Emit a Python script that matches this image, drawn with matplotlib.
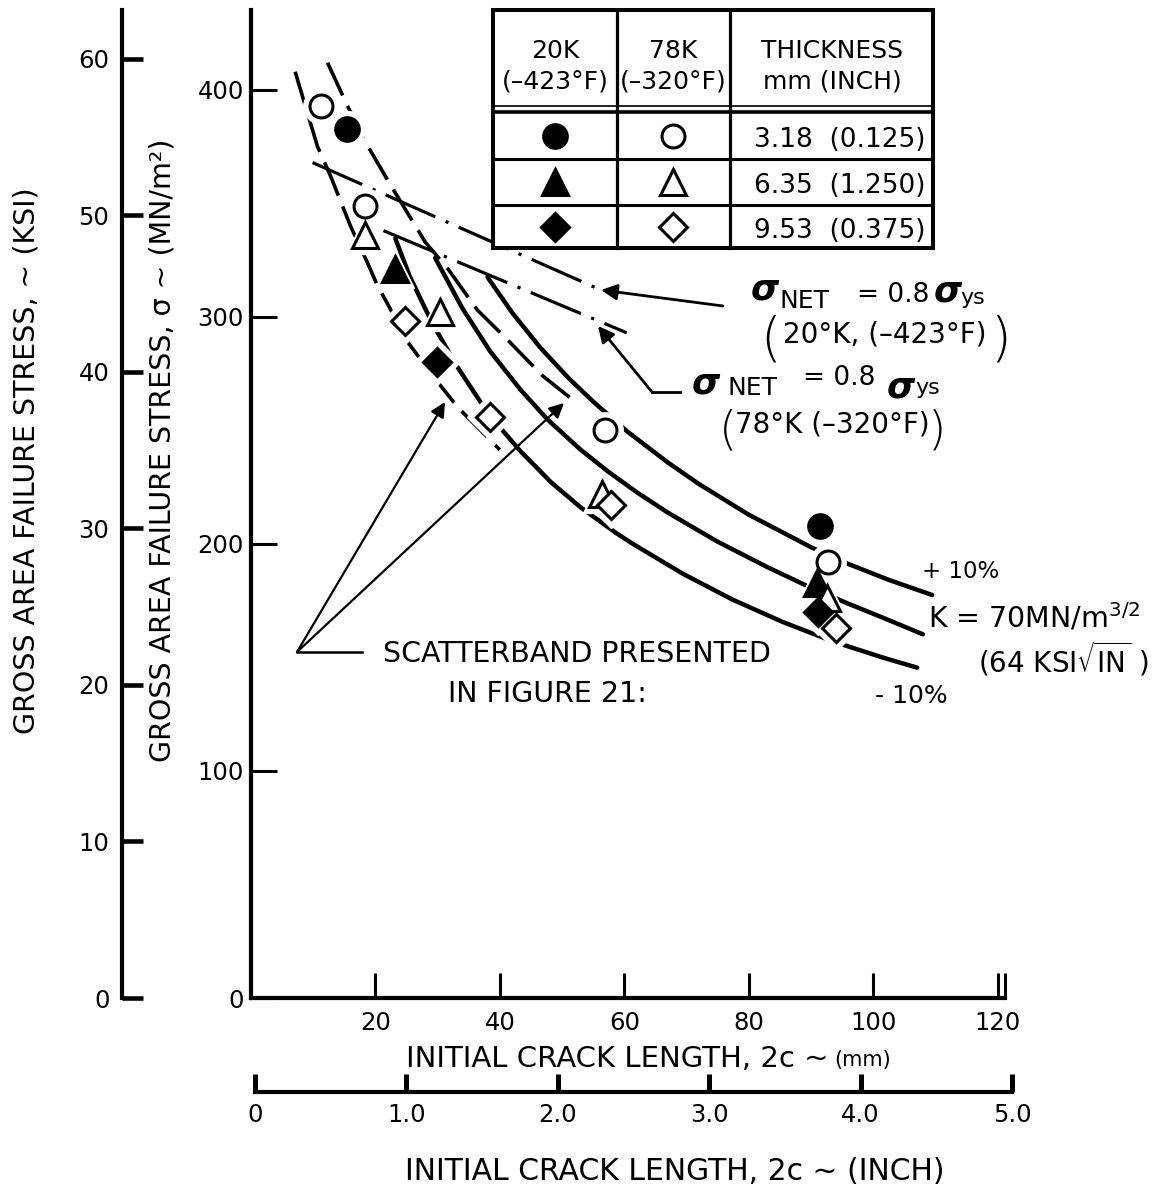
import matplotlib.pyplot as plt
from matplotlib.patches import Rectangle

# values
# crack length 2c (mm) vs gross area failure stress (MN/m^2)
circ_20k_x = [15.5, 91.4]
circ_20k_y = [383, 208]
circ_78k_x = [11.2, 18.4, 56.9, 92.7]
circ_78k_y = [393, 349, 250, 192]
tri_20k_x = [23.2, 90.9]
tri_20k_y = [321, 183]
tri_78k_x = [18.4, 30.4, 56.4, 92.6]
tri_78k_y = [336, 302, 222, 176]
dia_20k_x = [29.9, 91.1]
dia_20k_y = [280, 170]
dia_78k_x = [24.8, 38.4, 57.9, 94.1]
dia_78k_y = [298, 256, 217, 163]

# K = 70 MN/m^3/2 line with the +/-10 % band
k_x = [29.6, 34, 38.4, 43.3, 47.6, 52.9, 57.5, 62, 67, 75, 83, 89, 96, 101.5, 108]
k_y = [326, 303.7, 285, 268, 255, 241.7, 231.7, 222.8, 213.8, 201, 189.8, 182, 173.7,
       167.6, 160.2]
kplus_x = [38, 42, 46.5, 51, 55, 60.5, 67, 72, 80, 90, 96, 102.5, 109.5]
kplus_y = [317.6, 301.8, 286.5, 273.2, 262.7, 249.5, 235.9, 226.4, 212.9, 198.6, 191.2,
           184.2, 177.5]
kminus_x = [23.2, 25.5, 28, 29.6, 33.1, 36.8, 40, 43.3, 48.3, 53, 58.8, 61.4, 69.4, 77.4,
            85.5, 93.5, 101.5, 107.1]
kminus_y = [334.6, 318, 303.7, 295, 278.3, 262.9, 251.4, 240.9, 227, 216.1, 204.6, 200,
            186.9, 175.5, 165.6, 157.1, 150, 145.5]

# scatterband from figure 21
band_lo_x = [7.1, 8.4, 10.7, 12.8, 16.0, 18.7, 20.3, 22.1, 25.3, 30.1, 33.3, 40.0]
band_lo_y = [408, 396, 375, 362, 340, 324, 314, 305, 288.5, 271, 260, 241.5]
band_hi_x = [12.3, 15.5, 18.4, 21.6, 22.9, 28.0, 31.7, 36.4, 41.2, 46.9, 52.4]
band_hi_y = [412, 393, 377, 362, 356, 333, 321, 303, 290, 274, 262]

# net section stress = 0.8 yield
net20_x = [9.9, 55.3]
net20_y = [368, 313]
net78_x = [21.3, 60.4]
net78_y = [338, 293]

mm_ticks = [20, 40, 60, 80, 100, 120]
stress_ticks = [0, 100, 200, 300, 400]
ksi_ticks = [0, 10, 20, 30, 40, 50, 60]
inch_ticks = [0, 1, 2, 3, 4, 5]
inch_labels = ["0", "1.0", "2.0", "3.0", "4.0", "5.0"]

thick_labels = ["3.18  (0.125)", "6.35  (1.250)", "9.53  (0.375)"]

plt.rcParams['font.family'] = 'DejaVu Sans'
W, H = 1176, 1202
fig = plt.figure(figsize=(W / 100, H / 100), dpi=100)


def box(x0, y0, x1, y1):
    return [x0 / W, 1 - y1 / H, (x1 - x0) / W, (y1 - y0) / H]


# main axes (mm / MN/m^2)
ax = fig.add_axes(box(251, 10, 1005, 998))
ax.set_xlim(0, 121.2)
ax.set_ylim(0, 435.2)
ax.patch.set_alpha(0)
ax.spines['top'].set_visible(False)
ax.spines['right'].set_visible(False)
ax.spines['left'].set_linewidth(3)
ax.spines['bottom'].set_linewidth(3)
ax.set_xticks(mm_ticks)
ax.set_xticks([121.2], minor=True)
ax.set_yticks(stress_ticks)
ax.tick_params(axis='both', which='both', direction='in', labelsize=17.5, width=2.2)
ax.tick_params(axis='x', which='both', length=18, pad=9)
ax.tick_params(axis='y', length=19, pad=5)

solid = dict(color='k', lw=3.2, solid_capstyle='round', solid_joinstyle='round', zorder=2)
ax.plot(kplus_x, kplus_y, **solid)
ax.plot(k_x, k_y, **solid)
ax.plot(kminus_x, kminus_y, **solid)

dashed = dict(color='k', lw=2.6, ls=(0, (10, 3.2)), zorder=2)
ax.plot(band_lo_x, band_lo_y, **dashed)
ax.plot(band_hi_x, band_hi_y, **dashed)

dashdot = dict(color='k', lw=2.3, ls=(0, (17, 3.5, 1, 3.5)), zorder=2)
ax.plot(net20_x, net20_y, **dashdot)
ax.plot(net78_x, net78_y, **dashdot)

series = [
    (circ_20k_x, circ_20k_y, 'o', 'k', 17),
    (circ_78k_x, circ_78k_y, 'o', 'w', 16.5),
    (tri_20k_x, tri_20k_y, '^', 'k', 19),
    (tri_78k_x, tri_78k_y, '^', 'w', 19),
    (dia_20k_x, dia_20k_y, 'D', 'k', 14.5),
    (dia_78k_x, dia_78k_y, 'D', 'w', 14.5),
]
for xs, ys, m, fc, ms in series:
    ax.plot(xs, ys, ls='none', marker=m, ms=ms + 9, mfc='w', mec='w', zorder=3)
for xs, ys, m, fc, ms in series:
    ax.plot(xs, ys, ls='none', marker=m, ms=ms, mfc=fc, mec='k', mew=2.2, zorder=4)

# KSI scale on the far left
kax = fig.add_axes(box(122, 10, 200, 998))
kax.set_ylim(0, 435.2 / 6.895)
kax.patch.set_alpha(0)
for s in ['top', 'right', 'bottom']:
    kax.spines[s].set_visible(False)
kax.spines['left'].set_linewidth(3)
kax.set_xticks([])
kax.set_yticks(ksi_ticks)
kax.tick_params(axis='y', direction='in', length=15, width=3.3, labelsize=17.5, pad=9)

# inch scale below
iax = fig.add_axes(box(255, 1062, 1012, 1092))
iax.set_xlim(0, 5)
iax.set_ylim(0, 1)
iax.patch.set_alpha(0)
for s in ['top', 'right', 'left']:
    iax.spines[s].set_visible(False)
iax.spines['bottom'].set_linewidth(3)
iax.set_yticks([])
iax.set_xticks(inch_ticks, inch_labels)
iax.tick_params(axis='x', direction='in', length=13, width=3.6, labelsize=17.5, pad=8)

# axis titles
fig.text(27 / W, 1 - 461 / H, "GROSS AREA FAILURE STRESS, ~ (KSI)", rotation=90,
         ha='center', va='center', fontsize=20.5)
fig.text(163 / W, 1 - 450 / H, "GROSS AREA FAILURE STRESS, σ ~ (MN/m²)", rotation=90,
         ha='center', va='center', fontsize=20.5)

# overlay in pixel units for the table and annotations
ov = fig.add_axes([0, 0, 1, 1])
ov.set_xlim(0, W)
ov.set_ylim(H, 0)
ov.axis('off')

t = ov.text(406, 1067, "INITIAL CRACK LENGTH, 2c ~", fontsize=21, va='baseline')
ov.annotate("(mm)", xy=(1, 0), xycoords=t, xytext=(4, 2), textcoords='offset points',
            va='bottom', fontsize=15)
ov.text(405, 1180, "INITIAL CRACK LENGTH, 2c ~ (INCH)", fontsize=21.5, va='baseline')

# legend table
ov.add_patch(Rectangle((493, 10), 440, 238, fc='w', ec='k', lw=2.9, zorder=5))
for xv in [617, 730]:
    ov.plot([xv, xv], [10, 248], color='k', lw=2.3, zorder=6)
ov.plot([493, 933], [106, 106], color='k', lw=1.2, zorder=6)
ov.plot([493, 933], [112, 112], color='k', lw=2.6, zorder=6)
for yv in [159, 205]:
    ov.plot([493, 933], [yv, yv], color='k', lw=2.2, zorder=6)
hdr = dict(ha='center', va='baseline', fontsize=18, zorder=7)
ov.text(555, 58, "20K", **hdr)
ov.text(555, 88, "(–423°F)", **hdr)
ov.text(673, 58, "78K", **hdr)
ov.text(673, 88, "(–320°F)", **hdr)
ov.text(832, 58, "THICKNESS", **hdr)
ov.text(832, 88, "mm (INCH)", **hdr)
rows_y = [136, 182, 227]
legend_marks = [('o', 17, 16.5), ('^', 19, 19), ('D', 14.5, 14.5)]
for ry, (m, ms_f, ms_o), lab in zip(rows_y, legend_marks, thick_labels):
    ov.plot([555], [ry], marker=m, ms=ms_f, mfc='k', mec='k', mew=2.2, zorder=7)
    ov.plot([673], [ry], marker=m, ms=ms_o, mfc='w', mec='k', mew=2.2, zorder=7)
    ov.text(840, ry + 11, lab, ha='center', va='baseline', fontsize=19, zorder=7)

# net-section stress notes
sig = dict(fontsize=26, style='italic', weight='bold', va='baseline', ha='center')
ov.text(765, 300, "σ", **sig)
ov.text(780, 308, "NET", fontsize=18, va='baseline')
ov.text(857, 302, "= 0.8", fontsize=19, va='baseline')
ov.text(948, 302, "σ", **sig)
ov.text(960, 304, "ys", fontsize=16, va='baseline')
ov.text(771, 356, "(", fontsize=38, ha='center', va='baseline', weight='light')
ov.text(783, 343, "20°K, (–423°F)", fontsize=20, va='baseline')
ov.text(1000, 356, ")", fontsize=38, ha='center', va='baseline', weight='light')

ov.text(706, 393, "σ", **sig)
ov.text(727, 395, "NET", fontsize=18, va='baseline')
ov.text(803, 385, "= 0.8", fontsize=19, va='baseline')
ov.text(901, 397, "σ", **sig)
ov.text(915, 394, "ys", fontsize=16, va='baseline')
ov.text(728, 443, "(", fontsize=34, ha='center', va='baseline', weight='light')
ov.text(735, 433, "78°K (–320°F)", fontsize=20, va='baseline')
ov.text(937, 443, ")", fontsize=34, ha='center', va='baseline', weight='light')

arrow = dict(arrowstyle='-|>', color='k', lw=2.0, mutation_scale=24, shrinkA=0, shrinkB=0)
ov.annotate("", xy=(601, 290), xytext=(723, 306), arrowprops=arrow)
ov.plot([680, 652], [392, 392], color='k', lw=2.0)
ov.annotate("", xy=(598, 326), xytext=(652, 392), arrowprops=arrow)

# K-band labels
ov.text(922, 578, "+ 10%", fontsize=16.5, va='baseline')
ov.text(928, 628, "K = 70MN/m$^{3/2}$", fontsize=20.5, va='baseline')
ov.text(978, 672, r"(64 KSI$\sqrt{\mathrm{IN}}$ )", fontsize=20, va='baseline')
ov.text(875, 703, "- 10%", fontsize=18, va='baseline')

# scatterband note
ov.text(383, 662, "SCATTERBAND PRESENTED", fontsize=20.5, va='baseline')
ov.text(448, 702, "IN FIGURE 21:", fontsize=20.5, va='baseline')
ov.plot([297, 362], [652, 652], color='k', lw=1.8)
thin = dict(arrowstyle='-|>', color='k', lw=1.6, mutation_scale=22, shrinkA=0, shrinkB=0)
ov.annotate("", xy=(445, 402), xytext=(297, 652), arrowprops=thin)
ov.annotate("", xy=(564, 403), xytext=(297, 652), arrowprops=thin)

fig.savefig("out.png", dpi=100)
